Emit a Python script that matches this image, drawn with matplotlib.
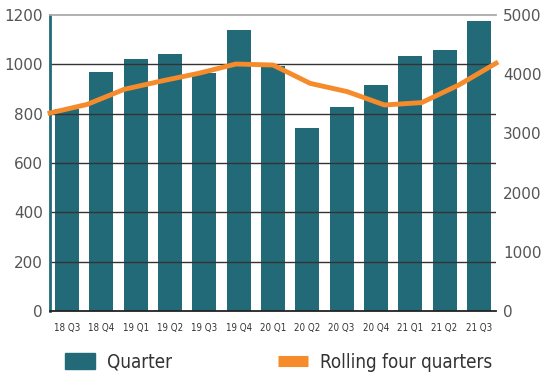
import matplotlib
matplotlib.use("Agg")
import matplotlib.pyplot as plt
import numpy as np
from matplotlib.lines import Line2D
from matplotlib.patches import Patch
from matplotlib import font_manager
from matplotlib.font_manager import FontProperties

quarters = ["18 Q3", "18 Q4", "19 Q1", "19 Q2", "19 Q3", "19 Q4", "20 Q1",
            "20 Q2", "20 Q3", "20 Q4", "21 Q1", "21 Q2", "21 Q3"]
quarter_values = [820, 970, 1020, 1042, 966, 1140, 995, 740, 828, 916, 1035, 1058, 1176]
rolling_values = [3345, 3490, 3745, 3885, 4015, 4172, 4155, 3845, 3705, 3480, 3520, 3818, 4185]
left_ticks = [0, 200, 400, 600, 800, 1000, 1200]
right_ticks = [0, 1000, 2000, 3000, 4000, 5000]

TEAL = "#236A78"
ORANGE = "#F68B2C"

cond_path = font_manager.findfont(FontProperties(family="DejaVu Sans", stretch="condensed"))
has_cond = "ondensed" in cond_path
if has_cond:
    narrow = dict(family="DejaVu Sans", stretch="condensed")
    tick_size, leg_size = 7.0, 13.5
else:
    narrow = dict(family="Liberation Sans")
    tick_size, leg_size = 6.8, 12.8

fig = plt.figure(figsize=(5.41, 3.72), dpi=100)
pos = [50/541, 1-311/372, 446/541, 296/372]
ax = fig.add_axes(pos)
x = np.arange(len(quarters))
ax.bar(x, quarter_values, width=0.7, color=TEAL, zorder=1)
ax.set_xlim(-0.5, len(quarters)-0.5)
ax.set_ylim(0, 1200)
ax.set_yticks(left_ticks)
ax.set_xticks(x)
ax.set_xticklabels(quarters, fontsize=tick_size, color="#333333", **narrow)
ax.tick_params(axis="x", length=0, pad=9)
ax.tick_params(axis="y", length=0, pad=5, labelsize=11, labelcolor="#555555")
for v in left_ticks[1:-1]:
    ax.axhline(v, color="#333333", lw=1.0, zorder=2)
ax.spines["left"].set_color(TEAL)
ax.spines["left"].set_linewidth(2)
ax.spines["bottom"].set_color("#222222")
ax.spines["bottom"].set_linewidth(1.3)
ax.spines["top"].set_color("#aaaaaa")
ax.spines["top"].set_linewidth(1.3)
ax.spines["right"].set_visible(False)

ax2 = fig.add_axes(pos, frameon=False)
ax2.plot(np.arange(len(rolling_values)), rolling_values, color=ORANGE, lw=3.5,
         solid_joinstyle="round", zorder=3, clip_on=False)
ax2.set_xlim(0, len(rolling_values)-1)
ax2.set_ylim(0, 5000)
ax2.set_xticks([])
ax2.yaxis.tick_right()
ax2.set_yticks(right_ticks)
ax2.tick_params(axis="y", length=0, pad=5, labelsize=11, labelcolor="#555555")
ax2.spines["right"].set_visible(True)
ax2.spines["right"].set_color(ORANGE)
ax2.spines["right"].set_linewidth(2)

leg_font = FontProperties(size=leg_size, **narrow)
fig.legend(handles=[Patch(color=TEAL, label="Quarter")],
           loc="center left", bbox_to_anchor=(65/541, 1-362/372),
           frameon=False, borderpad=0, borderaxespad=0, handlelength=1.6,
           handleheight=1.0, handletextpad=0.65, prop=leg_font, labelcolor="#333333")
fig.legend(handles=[Line2D([], [], color=ORANGE, lw=8, solid_capstyle="butt",
                           label="Rolling four quarters")],
           loc="center left", bbox_to_anchor=(278/541, 1-362/372),
           frameon=False, borderpad=0, borderaxespad=0, handlelength=1.6,
           handletextpad=0.65, prop=leg_font, labelcolor="#333333")

fig.savefig("out.png", dpi=100)
